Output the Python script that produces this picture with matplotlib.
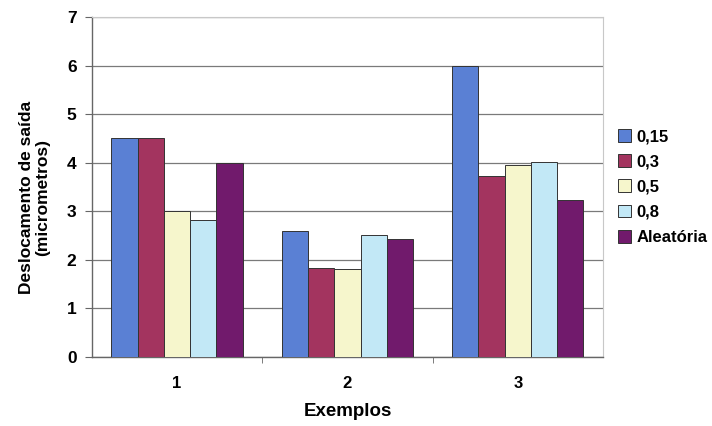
import matplotlib
matplotlib.use("Agg")
import matplotlib.pyplot as plt
import numpy as np

plt.rcParams['font.family'] = ['Liberation Sans', 'DejaVu Sans']

categories = ["1", "2", "3"]
series_names = ["0,15", "0,3", "0,5", "0,8", "Aleatória"]
v_015 = [4.5, 2.6, 6.0]
v_03 = [4.5, 1.84, 3.73]
v_05 = [3.0, 1.82, 3.95]
v_08 = [2.82, 2.52, 4.02]
v_aleat = [4.0, 2.43, 3.24]
series_values = [v_015, v_03, v_05, v_08, v_aleat]
colors = ["#5A80D4", "#A3345F", "#F6F6CC", "#C2E8F6", "#711A6C"]

fig = plt.figure(figsize=(7.12, 4.26), dpi=100)
ax = fig.add_axes([0.129, 0.162, 0.718, 0.798])

x = np.arange(1, len(categories) + 1)
n = len(series_values)
bar_w = 0.77 / n
for i, (vals, col, name) in enumerate(zip(series_values, colors, series_names)):
    offs = (i - (n - 1) / 2) * bar_w
    ax.bar(x + offs, vals, width=bar_w, color=col, edgecolor="#333333",
           linewidth=0.7, label=name, zorder=3)

ax.set_xlim(0.5, 3.5)
ax.set_ylim(0, 7)
ax.set_yticks(range(0, 8))
ax.yaxis.grid(True, color="#7a7a7a", linewidth=0.9, zorder=0)
ax.set_axisbelow(True)

ax.set_xticks(x)
ax.set_xticklabels(categories, fontsize=12, fontweight="bold")
ax.set_xticks([1.5, 2.5], minor=True)
ax.tick_params(axis="x", which="major", length=0, pad=14)
ax.tick_params(axis="x", which="minor", length=4, direction="out", color="#666666")
ax.tick_params(axis="y", labelsize=12.5, length=5, direction="out", color="#666666", pad=6)
for lbl in ax.get_yticklabels():
    lbl.set_fontweight("bold")

for side in ["left", "bottom"]:
    ax.spines[side].set_color("#666666")
    ax.spines[side].set_linewidth(1.0)
for side in ["top", "right"]:
    ax.spines[side].set_color("#c8c8c8")
    ax.spines[side].set_linewidth(0.8)

ax.set_xlabel("Exemplos", fontsize=13.5, fontweight="bold", labelpad=8)
ax.set_ylabel("Deslocamento de saída\n(micrometros)", fontsize=12.5,
              fontweight="bold", labelpad=8, linespacing=1.05)
ax.yaxis.set_label_coords(-0.082, 0.47)

ax.legend(loc="center left", bbox_to_anchor=(1.0, 0.5), frameon=False,
          prop={"size": 12, "weight": "bold"}, handlelength=0.8,
          handleheight=0.8, handletextpad=0.3, labelspacing=0.6,
          borderaxespad=0.5)

fig.savefig("out.png", dpi=100)
